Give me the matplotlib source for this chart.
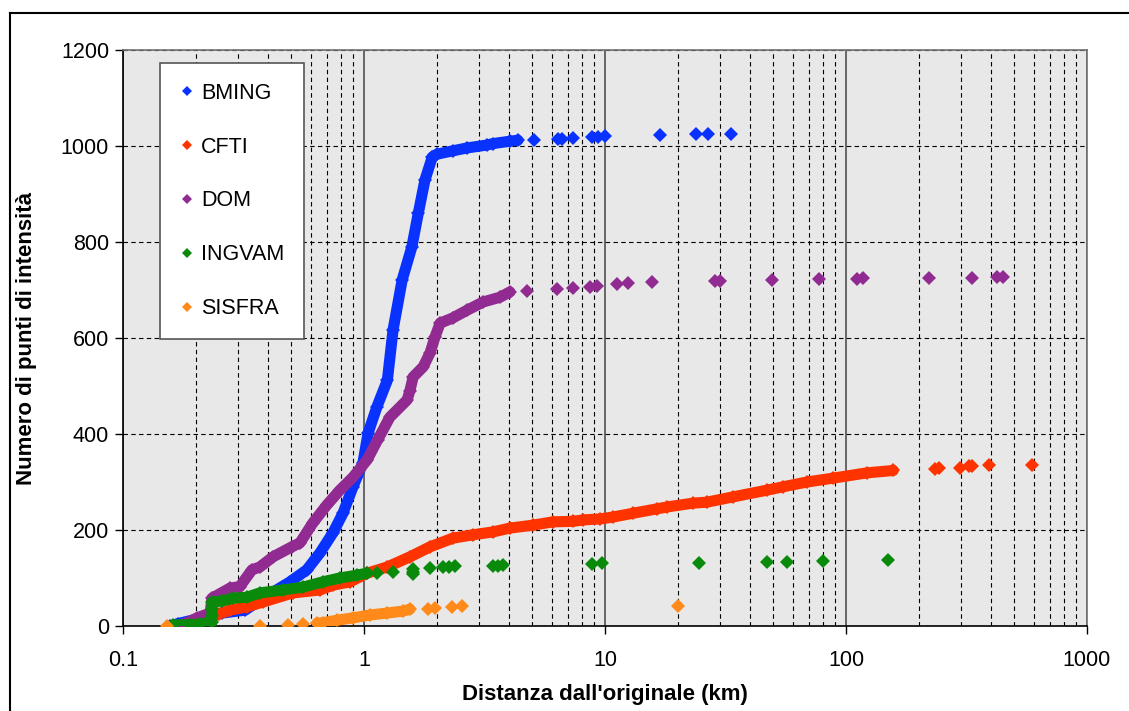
import numpy as np
import matplotlib.pyplot as plt
from matplotlib.ticker import FixedLocator, NullFormatter
from matplotlib.lines import Line2D

plt.rcParams['font.family'] = ['Liberation Sans', 'DejaVu Sans']

# dati (distanza km, numero cumulato di punti)
names = ['BMING', 'CFTI', 'DOM', 'INGVAM', 'SISFRA']
colors = ['#0A32FF', '#FF3300', '#922B91', '#0A8A0A', '#FF8A1A']

# BMING
bming_x = [0.157, 0.169, 0.258, 0.321, 0.37, 0.493, 0.579, 0.656, 0.743, 0.818, 0.9, 0.99,
           1.04, 1.13, 1.25, 1.32, 1.44, 1.58, 1.68, 1.79, 1.92, 2.01, 2.34, 2.68, 3.24, 3.43,
           4.03, 4.35]
bming_y = [0, 5, 27, 33, 54, 92, 117, 152, 194, 235, 290, 340, 402, 456, 512, 617, 721, 790,
           860, 929, 977, 983, 990, 996, 1002, 1005, 1010, 1012]
bming_tail_x = [5.07, 6.38, 6.63, 7.36, 8.83, 9.35, 10.0, 16.9, 23.9, 26.7, 33.3]
bming_tail_y = [1013, 1014, 1015, 1016, 1018, 1019, 1021, 1023, 1024, 1025, 1025]

# CFTI
cfti_x = [0.25, 0.278, 0.327, 0.381, 0.507, 0.656, 0.743, 0.875, 1.03, 1.25, 1.55, 1.88, 2.34,
          2.83, 3.43, 4.03, 5.02, 6.08, 7.36, 8.11, 9.53, 10.8, 13.1, 16.4, 18.1, 23.2, 26.5,
          34.0, 47.0, 54.8, 68.9, 88.3, 122, 157]
cfti_y = [25, 33, 40, 50, 69, 75, 85, 92, 110, 123, 144, 165, 183, 190, 196, 204, 210, 217, 218,
          221, 223, 227, 235, 244, 248, 256, 258, 269, 283, 290, 300, 308, 319, 324]
cfti_tail_x = [234, 243, 297, 324, 333, 392, 592]
cfti_tail_y = [327, 329, 330, 333, 334, 335, 335]

# DOM
dom_x = [0.176, 0.203, 0.23, 0.234, 0.278, 0.305, 0.343, 0.37, 0.419, 0.502, 0.542, 0.614,
         0.701, 0.794, 0.9, 1.03, 1.14, 1.28, 1.41, 1.51, 1.55, 1.6, 1.76, 1.88, 1.97, 2.07,
         2.34, 2.68, 3.12, 3.67, 4.03]
dom_y = [2, 17, 27, 58, 79, 82, 117, 123, 144, 165, 173, 215, 252, 283, 310, 346, 388, 435,
         456, 471, 490, 519, 540, 569, 602, 631, 642, 658, 675, 685, 696]
dom_tail_x = [4.75, 6.32, 7.36, 8.66, 9.27, 11.2, 12.5, 15.7, 28.6, 30.0, 49.3, 77.3, 111, 118,
              221, 333, 424, 448]
dom_tail_y = [698, 702, 704, 706, 708, 712, 714, 716, 718, 719, 721, 722, 723, 724, 725, 726,
              727, 727]

# INGVAM
ingvam_x = [0.161, 0.19, 0.209, 0.234, 0.234, 0.234, 0.234, 0.258, 0.286, 0.327, 0.37, 0.461,
            0.558, 0.676, 0.794, 0.935, 1.03]
ingvam_y = [2, 3, 4, 8, 20, 35, 50, 52, 58, 60, 69, 75, 81, 92, 100, 106, 110]
ingvam_tail_x = [1.13, 1.32, 1.6, 1.6, 1.6, 1.88, 2.13, 2.25, 2.39, 3.43, 3.6, 3.78, 8.83, 9.72,
                 24.5, 47.0, 56.9, 80.3, 149]
ingvam_tail_y = [111, 112, 108, 113, 118, 120, 122, 123, 124, 125, 126, 127, 130, 132, 132,
                 133, 134, 135, 137]

# SISFRA
sisfra_x = [0.64, 0.676, 0.773, 0.9, 1.06, 1.25, 1.45, 1.55]
sisfra_y = [6, 7, 12, 17, 23, 27, 31, 35]
sisfra_tail_x = [0.152, 0.37, 0.484, 0.558, 1.85, 1.97, 2.32, 2.55, 20.1]
sisfra_tail_y = [0, 1, 2, 4, 36, 38, 40, 42, 42]

dense = [(bming_x, bming_y), (cfti_x, cfti_y), (dom_x, dom_y), (ingvam_x, ingvam_y),
         (sisfra_x, sisfra_y)]
tails = [(bming_tail_x, bming_tail_y), (cfti_tail_x, cfti_tail_y), (dom_tail_x, dom_tail_y),
         (ingvam_tail_x, ingvam_tail_y), (sisfra_tail_x, sisfra_tail_y)]

fig = plt.figure(figsize=(11.29, 7.11), dpi=100)
ax = fig.add_axes([123 / 1129, 1 - 626 / 711, 964 / 1129, 576 / 711])
ax.set_facecolor('#E8E8E8')

# cornice esterna
fig.add_artist(Line2D([10 / 1129, 10 / 1129], [0, 1 - 13 / 711], color='black', lw=1.5,
                      transform=fig.transFigure))
fig.add_artist(Line2D([10 / 1129, 1], [1 - 13 / 711, 1 - 13 / 711], color='black', lw=1.5,
                      transform=fig.transFigure))

for i in range(5):
    dx, dy = dense[i]
    tx, ty = tails[i]
    z = 3 + i
    ax.plot(dx, dy, '-', color=colors[i], lw=8, solid_capstyle='round',
            solid_joinstyle='round', zorder=z)
    ax.plot(dx, dy, 'D', color=colors[i], ms=7.5, mew=0, zorder=z)
    ax.plot(tx, ty, 'D', color=colors[i], ms=7.5, mew=0, zorder=z)

ax.set_xscale('log')
ax.set_xlim(0.1, 1000)
ax.set_ylim(0, 1200)

ax.xaxis.set_major_locator(FixedLocator([0.1, 1, 10, 100, 1000]))
ax.set_xticklabels(['0.1', '1', '10', '100', '1000'])
minor = [m * 10.0 ** e for e in range(-1, 3) for m in range(2, 10)]
ax.xaxis.set_minor_locator(FixedLocator(minor))
ax.xaxis.set_minor_formatter(NullFormatter())
ax.set_yticks(range(0, 1201, 200))

ax.grid(which='major', axis='x', color='#505050', lw=1.2, linestyle='-', zorder=1)
ax.grid(which='minor', axis='x', color='black', lw=0.8, linestyle=(0, (4, 3)), zorder=1)
ax.grid(which='major', axis='y', color='black', lw=0.8, linestyle=(0, (4, 3)), zorder=1)
ax.set_axisbelow(True)

ax.tick_params(axis='both', which='major', direction='out', length=6, width=1,
               labelsize=15.5, color='black')
ax.tick_params(axis='x', which='major', pad=11)
ax.tick_params(axis='y', which='major', pad=4)
ax.tick_params(axis='x', which='minor', length=0)

for s in ['top', 'right']:
    ax.spines[s].set_color('#707070')
    ax.spines[s].set_linewidth(1.2)
for s in ['left', 'bottom']:
    ax.spines[s].set_color('black')
    ax.spines[s].set_linewidth(1.2)

ax.set_xlabel("Distanza dall'originale (km)", fontsize=16, fontweight='bold')
ax.set_ylabel('Numero di punti di intensità', fontsize=16, fontweight='bold')
ax.xaxis.set_label_coords(0.5, -0.1007)
ax.yaxis.set_label_coords(-0.0892, 0.5)

handles = [Line2D([], [], marker='D', color=c, ls='none', ms=5, mew=0) for c in colors]
leg = ax.legend(handles, names, loc='upper left', bbox_to_anchor=(0.0384, 0.977),
                fontsize=15.5, frameon=True, fancybox=False, framealpha=1,
                edgecolor='#555555', borderpad=0.9, labelspacing=1.53, handlelength=0.7,
                handletextpad=0.3, borderaxespad=0)
leg.get_frame().set_linewidth(1.2)
leg.set_zorder(20)

fig.savefig('out.png', dpi=100)
